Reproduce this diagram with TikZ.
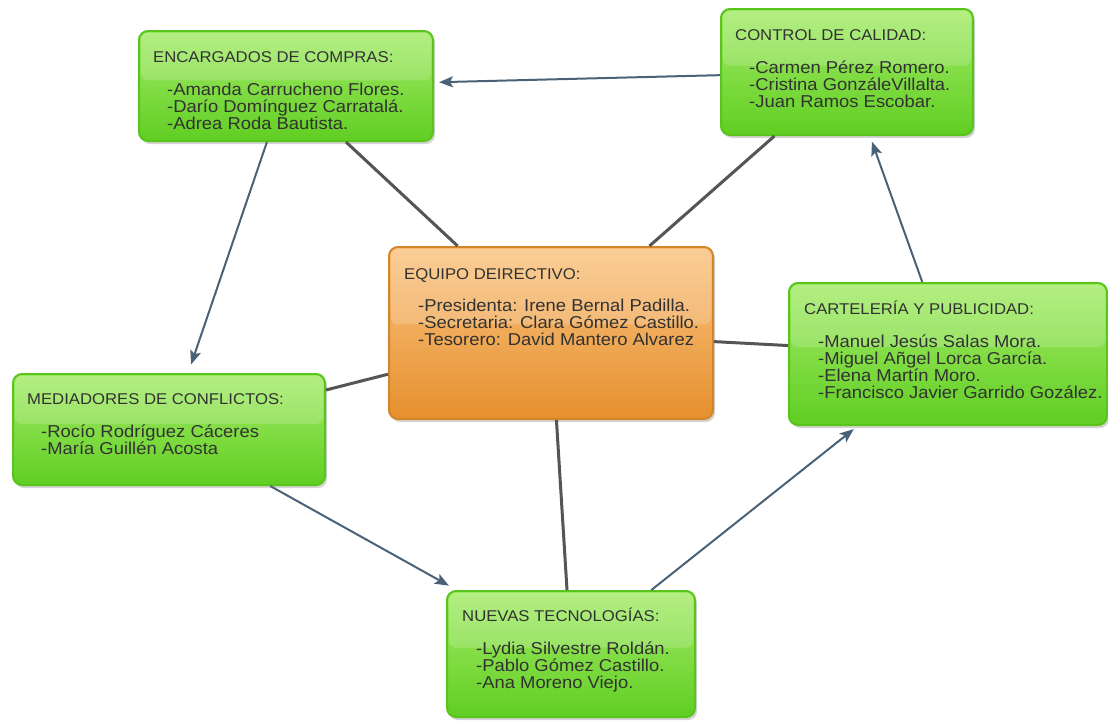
\documentclass[tikz,border=0pt]{standalone}
\usepackage{fontspec}
\setmainfont{Liberation Sans}[FakeStretch=1.07]
\usetikzlibrary{shadows,calc,arrows.meta}
\definecolor{gtop}{RGB}{165,236,105}
\definecolor{gbot}{RGB}{96,206,34}
\definecolor{gline}{RGB}{88,196,28}
\definecolor{otop}{RGB}{250,196,130}
\definecolor{obot}{RGB}{230,144,46}
\definecolor{oline}{RGB}{214,132,40}
\definecolor{txtc}{RGB}{50,50,50}
\definecolor{arrc}{RGB}{74,98,120}
\definecolor{linc}{RGB}{85,85,85}
\newcommand\ttl[1]{{\fontsize{15.6}{17}\selectfont\rule{0pt}{14pt}#1}}
\newcommand\ind{\hspace*{14pt}}
\newcommand\glossy[1]{\fill[white,opacity=0.17,rounded corners=7pt] ([shift={(3,3)}]#1.north west) rectangle ($(#1.north east)!0.45!(#1.south east)+(-3,0)$);}
\tikzset{
 box/.style={rectangle, rounded corners=9pt, inner sep=0pt, line width=2pt, anchor=north west,
   drop shadow={opacity=0.35, shadow xshift=2pt, shadow yshift=-3pt}},
 gbox/.style={box, draw=gline, top color=gtop, bottom color=gbot},
 obox/.style={box, draw=oline, top color=otop, bottom color=obot},
 txt/.style={anchor=north west, inner sep=0pt, align=left, text=txtc, font=\fontsize{17.2}{17}\selectfont},
 arr/.style={draw=arrc, line width=2pt, -{Stealth[length=14pt,width=11pt,inset=3pt]}},
 link/.style={draw=linc, line width=3pt},
}
\begin{document}
\begin{tikzpicture}[x=1pt,y=-1pt]
\useasboundingbox (0,0) rectangle (1108,720);
% boxes
\node[gbox, minimum width=294pt, minimum height=110pt] (compras) at (138,30) {};
\node[gbox, minimum width=252pt, minimum height=126pt] (calidad) at (720,8) {};
\node[obox, minimum width=324pt, minimum height=172pt] (equipo) at (388,246) {};
\node[gbox, minimum width=318pt, minimum height=142pt] (cartel) at (788,282) {};
\node[gbox, minimum width=312pt, minimum height=111pt] (mediad) at (12,373) {};
\node[gbox, minimum width=248pt, minimum height=126pt] (nuevas) at (446,590) {};
\glossy{compras}\glossy{calidad}\glossy{equipo}\glossy{cartel}\glossy{mediad}\glossy{nuevas}
% links
\draw[link] (equipo) -- (compras);
\draw[link] (equipo) -- (calidad);
\draw[link] (equipo) -- (cartel);
\draw[link] (equipo) -- (mediad);
\draw[link] (equipo) -- (nuevas);
% arrows
\draw[arr, shorten >=5pt] (calidad) -- (compras);
\draw[arr, shorten >=9pt] (compras) -- (mediad);
\draw[arr, shorten >=9pt] (mediad) -- (nuevas);
\draw[arr, shorten >=5pt] (nuevas) -- (cartel);
\draw[arr, shorten >=6pt] (cartel) -- (calidad);
% texts
\node[txt] (compras-t) at ([shift={(15,18)}]compras.north west) {\ttl{ENCARGADOS DE COMPRAS:}\\[16pt]
 \ind-Amanda Carrucheno Flores.\\ \ind-Darío Domínguez Carratalá.\\ \ind-Adrea Roda Bautista.};
\node[txt] (calidad-t) at ([shift={(15,18)}]calidad.north west) {\ttl{CONTROL DE CALIDAD:}\\[16pt]
 \ind-Carmen Pérez Romero.\\ \ind-Cristina GonzáleVillalta.\\ \ind-Juan Ramos Escobar.};
\node[txt] (equipo-t) at ([shift={(16,19)}]equipo.north west) {\ttl{EQUIPO DEIRECTIVO:}\\[15pt]
 \ind-Presidenta: Irene Bernal Padilla.\\ \ind-Secretaria: Clara Gómez Castillo.\\ \ind-Tesorero: David Mantero Alvarez};
\node[txt] (cartel-t) at ([shift={(16,18)}]cartel.north west) {\ttl{CARTELERÍA Y PUBLICIDAD:}\\[16pt]
 \ind-Manuel Jesús Salas Mora.\\ \ind-Miguel Añgel Lorca García.\\ \ind-Elena Martín Moro.\\ \ind-Francisco Javier Garrido Gozález.};
\node[txt] (mediad-t) at ([shift={(15,17)}]mediad.north west) {\ttl{MEDIADORES DE CONFLICTOS:}\\[16pt]
 \ind-Rocío Rodríguez Cáceres\\ \ind-María Guillén Acosta};
\node[txt] (nuevas-t) at ([shift={(16,17)}]nuevas.north west) {\ttl{NUEVAS TECNOLOGÍAS:}\\[16pt]
 \ind-Lydia Silvestre Roldán.\\ \ind-Pablo Gómez Castillo.\\ \ind-Ana Moreno Viejo.};
\end{tikzpicture}
\end{document}
